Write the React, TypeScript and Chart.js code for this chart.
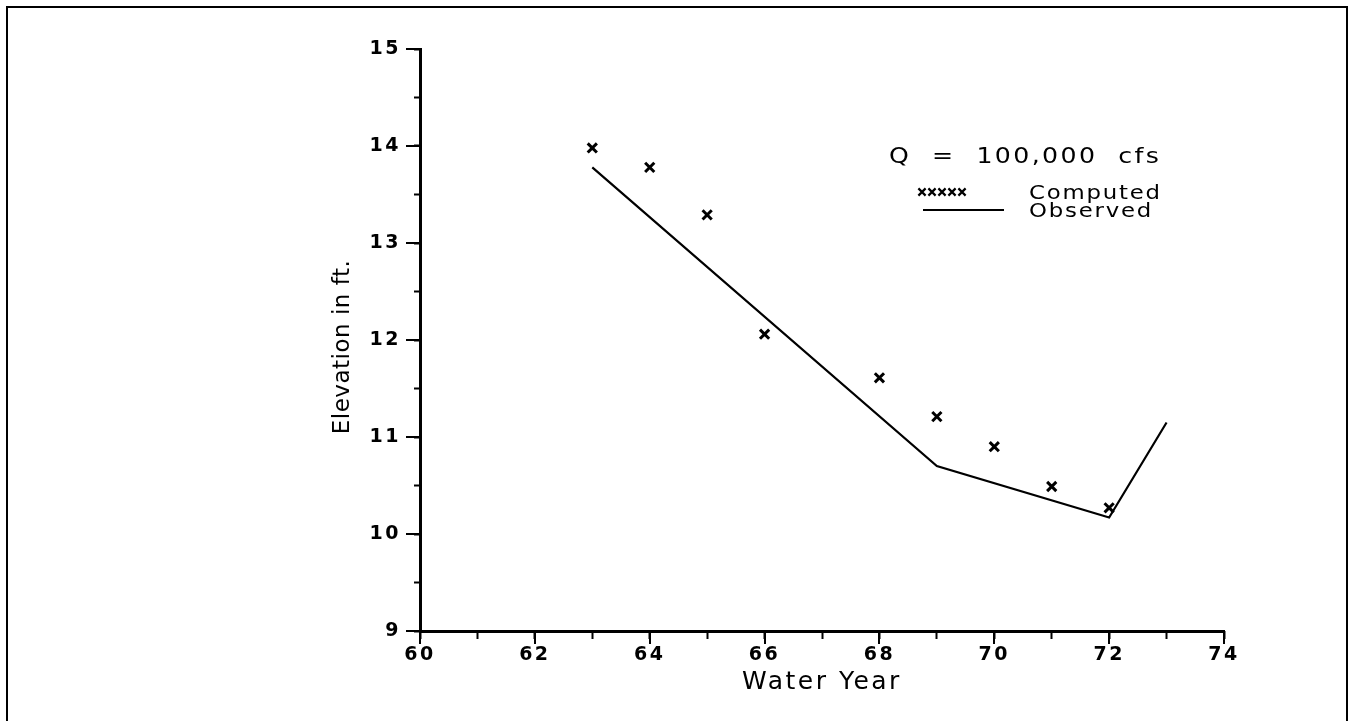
import React, { useEffect, useRef } from 'react';
import { Chart, registerables } from 'chart.js';

Chart.register(...registerables);

// ---------------- data ----------------
const computedYears = [63, 64, 65, 66, 68, 69, 70, 71, 72];
const computedElevations = [13.98, 13.78, 13.29, 12.06, 11.61, 11.21, 10.9, 10.49, 10.27];
const observedYears = [63, 69, 72, 73];
const observedElevations = [13.78, 10.7, 10.17, 11.15];

const xRange = [60, 74];
const xMajorStep = 2;
const xMinorStep = 1;
const yRange = [9, 15];
const yMajorStep = 1;
const yMinorStep = 0.5;

const seriesLabels = ['Computed', 'Observed'];
const legendHeading = 'Q  =  100,000  cfs';
const xAxisTitle = 'Water Year';
const yAxisTitle = 'Elevation in ft.';

// ---------------- styling ----------------
const FONT = "'DejaVu Sans', 'Liberation Sans', sans-serif";
const INK = '#000';

const framePlugin = {
  id: 'pageFrame',
  beforeDraw(chart: any) {
    const ctx = chart.ctx;
    ctx.save();
    ctx.strokeStyle = INK;
    ctx.lineWidth = 2;
    ctx.beginPath();
    ctx.moveTo(7, chart.height + 5);
    ctx.lineTo(7, 7);
    ctx.lineTo(chart.width - 6, 7);
    ctx.lineTo(chart.width - 6, chart.height + 5);
    ctx.stroke();
    ctx.restore();
    ctx.letterSpacing = '2.5px';
    const ys: any = chart.scales.y;
    if (ys && !ys._titlePatched) {
      const orig = ys.drawTitle;
      ys.drawTitle = function (...args: any[]) {
        const c = this.ctx;
        c.save();
        c.letterSpacing = '0.5px';
        c.translate(0, 7);
        orig.apply(this, args);
        c.restore();
      };
      ys._titlePatched = true;
    }
  },
};

function wideText(ctx: CanvasRenderingContext2D, text: string, x: number, y: number, sx: number) {
  ctx.save();
  ctx.translate(x, y);
  ctx.scale(sx, 1);
  ctx.fillText(text, 0, 0);
  ctx.restore();
}

const legendPlugin = {
  id: 'insetLegend',
  afterDraw(chart: any) {
    const ctx = chart.ctx;
    const { left, top } = chart.chartArea;
    ctx.save();
    ctx.fillStyle = INK;
    ctx.strokeStyle = INK;
    ctx.textAlign = 'left';
    ctx.textBaseline = 'alphabetic';
    ctx.letterSpacing = '2px';
    ctx.font = `21px ${FONT}`;
    wideText(ctx, legendHeading, left + 469, top + 114, 1.2);
    ctx.letterSpacing = '1.5px';
    ctx.font = `19px ${FONT}`;
    wideText(ctx, seriesLabels[0], left + 609, top + 150, 1.2);
    wideText(ctx, seriesLabels[1], left + 609, top + 168, 1.2);
    // computed markers sample
    ctx.lineWidth = 2.2;
    const cy = top + 143;
    for (let i = 0; i < 5; i++) {
      const cx = left + 502 + i * 10;
      ctx.beginPath();
      ctx.moveTo(cx - 3.6, cy - 3.6);
      ctx.lineTo(cx + 3.6, cy + 3.6);
      ctx.moveTo(cx + 3.6, cy - 3.6);
      ctx.lineTo(cx - 3.6, cy + 3.6);
      ctx.stroke();
    }
    // observed line sample
    ctx.lineWidth = 2.2;
    ctx.beginPath();
    ctx.moveTo(left + 503, top + 161);
    ctx.lineTo(left + 584, top + 161);
    ctx.stroke();
    ctx.restore();
  },
};

export default function App() {
  const ref = useRef<HTMLCanvasElement>(null);

  useEffect(() => {
    const canvas = ref.current;
    if (!canvas) return;

    const computedData = computedYears.map((x, i) => ({ x, y: computedElevations[i] }));
    const observedData = observedYears.map((x, i) => ({ x, y: observedElevations[i] }));

    const chart = new Chart(canvas, {
      type: 'scatter',
      data: {
        datasets: [
          {
            label: seriesLabels[0],
            data: computedData,
            xAxisID: 'x',
            yAxisID: 'y',
            showLine: false,
            pointStyle: 'crossRot',
            pointRadius: 6.5,
            pointBorderWidth: 3,
            borderColor: INK,
            backgroundColor: INK,
          },
          {
            label: seriesLabels[1],
            data: observedData,
            xAxisID: 'x',
            yAxisID: 'y',
            showLine: true,
            borderColor: INK,
            backgroundColor: INK,
            borderWidth: 2.2,
            pointRadius: 0,
            tension: 0,
          },
        ],
      },
      options: {
        responsive: false,
        devicePixelRatio: 1,
        animation: false,
        events: [],
        layout: { padding: { left: 329, top: 49, right: 129, bottom: 24 } },
        plugins: {
          legend: { display: false },
          tooltip: { enabled: false },
          title: { display: false },
        },
        scales: {
          x: {
            type: 'linear',
            axis: 'x',
            position: 'bottom',
            min: xRange[0],
            max: xRange[1],
            ticks: {
              stepSize: xMajorStep,
              color: INK,
              padding: 0,
              font: { family: FONT, size: 19, weight: 'bold' },
            },
            grid: {
              drawOnChartArea: false,
              drawTicks: true,
              tickLength: 13,
              color: INK,
              tickColor: INK,
              lineWidth: 2,
              tickWidth: 2,
            },
            border: { display: true, color: INK, width: 3 },
            title: {
              display: true,
              text: xAxisTitle,
              color: INK,
              padding: 0,
              font: { family: FONT, size: 25 },
            },
            afterFit: (s: any) => {
              s.height = 66;
            },
          },
          y: {
            type: 'linear',
            axis: 'y',
            position: 'left',
            min: yRange[0],
            max: yRange[1],
            ticks: {
              stepSize: yMajorStep,
              color: INK,
              padding: 5,
              font: { family: FONT, size: 19, weight: 'bold' },
            },
            grid: {
              drawOnChartArea: false,
              drawTicks: true,
              tickLength: 14,
              color: INK,
              tickColor: INK,
              lineWidth: 2,
              tickWidth: 2,
            },
            border: { display: true, color: INK, width: 3 },
            title: {
              display: true,
              text: yAxisTitle,
              color: INK,
              padding: 0,
              font: { family: FONT, size: 23 },
            },
            afterFit: (s: any) => {
              s.width = 91;
            },
          },
          xMinor: {
            type: 'linear',
            axis: 'x',
            position: { y: yRange[0] },
            min: xRange[0],
            max: xRange[1],
            ticks: { stepSize: xMinorStep, display: false },
            grid: {
              drawOnChartArea: false,
              drawTicks: true,
              tickLength: 8,
              color: INK,
              tickColor: INK,
              tickWidth: 2,
            },
            border: { display: false },
          },
          yMinor: {
            type: 'linear',
            axis: 'y',
            position: { x: xRange[0] },
            min: yRange[0],
            max: yRange[1],
            ticks: { stepSize: yMinorStep, display: false },
            grid: {
              drawOnChartArea: false,
              drawTicks: true,
              tickLength: 6,
              color: INK,
              tickColor: INK,
              tickWidth: 2,
            },
            border: { display: false },
          },
        },
      } as any,
      plugins: [framePlugin, legendPlugin],
    });

    return () => chart.destroy();
  }, []);

  return (
    <div
      style={{
        position: 'fixed',
        left: 0,
        top: 0,
        width: 1353,
        height: 721,
        background: '#fff',
      }}
    >
      <canvas ref={ref} width={1353} height={721} style={{ display: 'block' }} />
    </div>
  );
}
